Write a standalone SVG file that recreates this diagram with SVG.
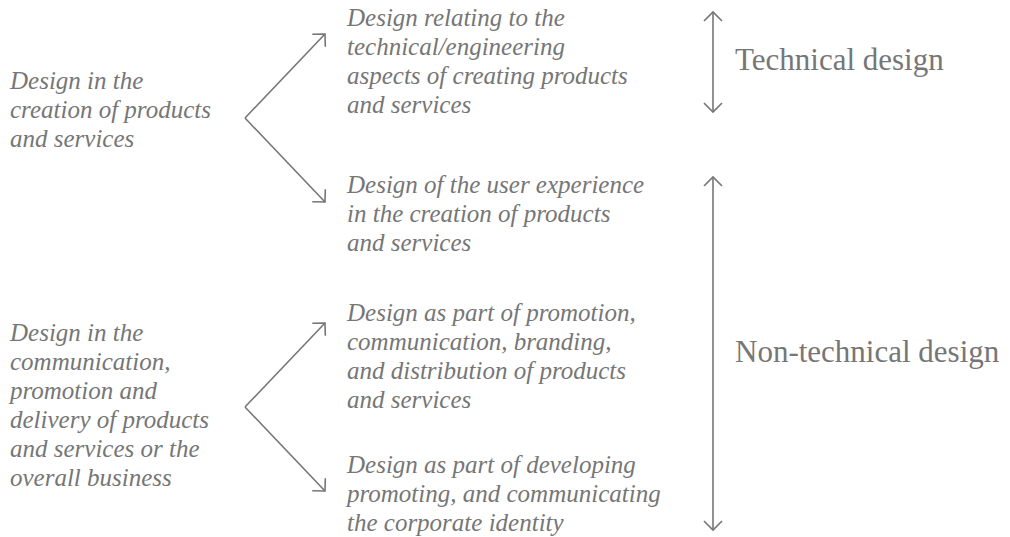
<svg xmlns="http://www.w3.org/2000/svg" width="1010" height="537" viewBox="0 0 1010 537">
<style>
.it{font-family:"Liberation Serif","Times New Roman",serif;font-style:italic;font-size:25px;fill:#767676}
.lb{font-family:"Liberation Serif","Times New Roman",serif;font-size:31px;fill:#767676}
.ln{fill:none;stroke:#767676;stroke-width:1.6}
</style>
<defs>
<marker id="ah" markerUnits="userSpaceOnUse" viewBox="-12 -12 14 24" markerWidth="14" markerHeight="24" refX="0" refY="0" orient="auto-start-reverse" overflow="visible">
<path d="M-9,-9 L0,0 L-9,9" fill="none" stroke="#767676" stroke-width="1.6"/>
</marker>
</defs>
<rect width="1010" height="537" fill="#ffffff"/>
<g id="left1">
<text class="it" x="10" y="89">Design in the</text>
<text class="it" x="10" y="118">creation of products</text>
<text class="it" x="10" y="147">and services</text>
</g>
<g id="left2">
<text class="it" x="10" y="341">Design in the</text>
<text class="it" x="10" y="370">communication,</text>
<text class="it" x="10" y="399">promotion and</text>
<text class="it" x="10" y="428">delivery of products</text>
<text class="it" x="10" y="457">and services or the</text>
<text class="it" x="10" y="486">overall business</text>
</g>
<g id="mid1">
<text class="it" x="347" y="26">Design relating to the</text>
<text class="it" x="347" y="55">technical/engineering</text>
<text class="it" x="347" y="84">aspects of creating products</text>
<text class="it" x="347" y="113">and services</text>
</g>
<g id="mid2">
<text class="it" x="347" y="193">Design of the user experience</text>
<text class="it" x="347" y="222">in the creation of products</text>
<text class="it" x="347" y="251">and services</text>
</g>
<g id="mid3">
<text class="it" x="347" y="321">Design as part of promotion,</text>
<text class="it" x="347" y="350">communication, branding,</text>
<text class="it" x="347" y="379">and distribution of products</text>
<text class="it" x="347" y="408">and services</text>
</g>
<g id="mid4">
<text class="it" x="347" y="473">Design as part of developing</text>
<text class="it" x="347" y="502">promoting, and communicating</text>
<text class="it" x="347" y="531">the corporate identity</text>
</g>
<g id="tech">
<text class="lb" x="735" y="70">Technical design</text>
</g>
<g id="nontech">
<text class="lb" x="735" y="362">Non-technical design</text>
</g>
<g id="connectors">
<path class="ln" d="M245,118 L325,34" marker-end="url(#ah)"/>
<path class="ln" d="M245,118 L325,202" marker-end="url(#ah)"/>
<path class="ln" d="M245,407 L325,323" marker-end="url(#ah)"/>
<path class="ln" d="M245,407 L325,491" marker-end="url(#ah)"/>
<path class="ln" d="M713,12 L713,112" marker-start="url(#ah)" marker-end="url(#ah)"/>
<path class="ln" d="M713,177 L713,530" marker-start="url(#ah)" marker-end="url(#ah)"/>
</g>
</svg>
